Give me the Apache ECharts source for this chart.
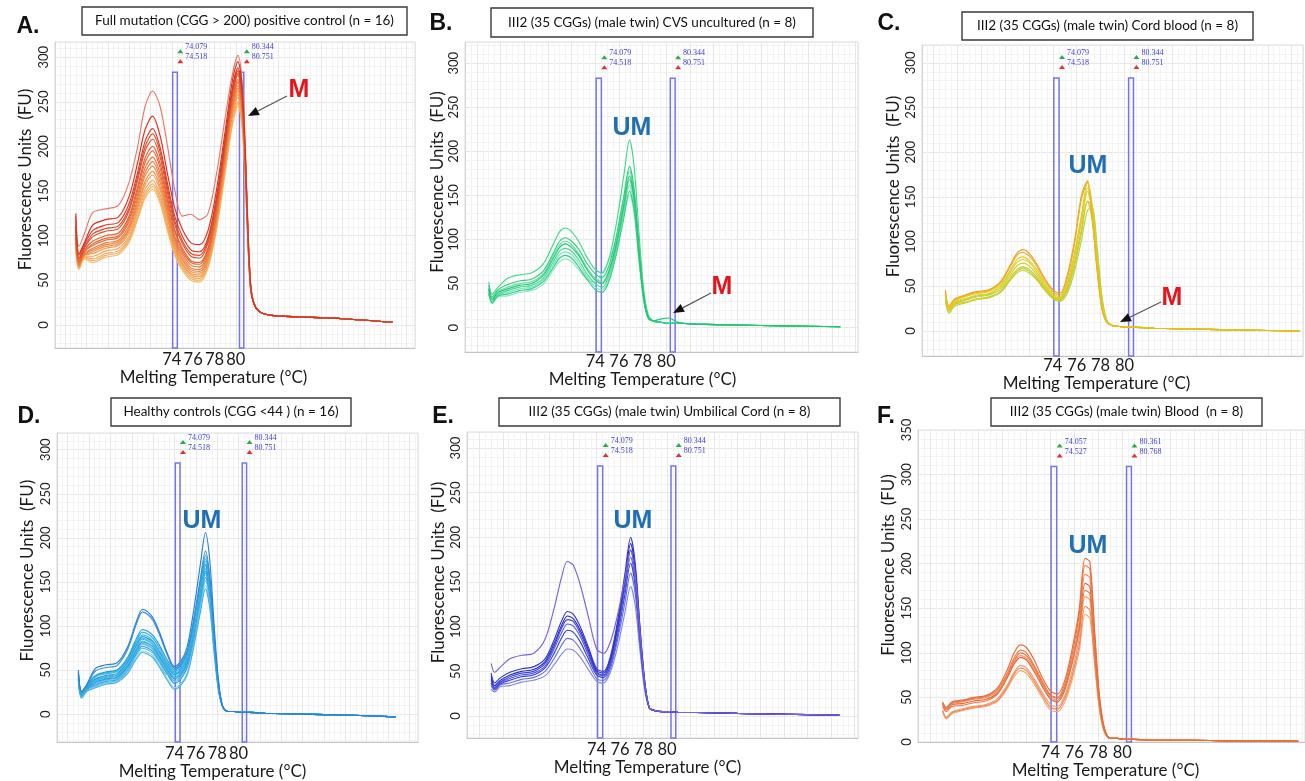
<!DOCTYPE html>
<html>
<head>
<meta charset="utf-8">
<title>Melting curves</title>
<script src="https://cdn.jsdelivr.net/npm/echarts@6/dist/echarts.min.js"></script>
<style>
html,body{margin:0;padding:0;background:#fff;}
#main{width:1305px;height:781px;}
</style>
</head>
<body>
<div id="main"></div>
<script>
// temperature points (degC) used for the curves
var tempsA = [65.0, 65.3, 65.8, 66.6, 67.8, 69.0, 70.0, 70.8, 71.5, 72.2, 72.9, 73.6, 74.3, 75.0, 75.8, 76.6, 77.4, 78.2, 79.0, 79.7, 80.2, 80.6, 80.9, 81.15, 81.4, 81.7, 82.2, 83.2, 86, 90, 94.7];
var tempsUM = [65.0, 65.3, 65.8, 66.6, 67.6, 68.6, 69.6, 70.4, 71.0, 71.5, 72.0, 72.6, 73.3, 74.0, 74.6, 75.2, 75.8, 76.4, 76.9, 77.3, 77.7, 78.1, 78.5, 79.0, 79.6, 80.2, 81.0, 82.5, 86, 90, 94.7];

var xTickLabels = [74, 76, 78, 80];
var yTickLabels = [0, 50, 100, 150, 200, 250, 300];
var yTickLabelsF = [0, 50, 100, 150, 200, 250, 300, 350];

// marker pairs (green / red) for the two melting windows
var markersStd = [74.079, 74.518, 80.344, 80.751];
var markersF = [74.057, 74.527, 80.361, 80.768];

// A. full mutation positive control (n = 16)
var fuA = [
  [122,88,102,126,130,134,160,200,245,262,245,200,150,122,124,118,125,170,232,282,302,272,196,106,45,25,15,11,9,7,3],
  [125,80,92,112,118,121,144,182,219,234,212,169,130,107,92,90,106,152,217,275,295,266,192,103,44,24,15,11,9,7,3],
  [118,78,90,106,112,115,136,171,206,220,199,158,121,99,84,82,98,144,210,267,288,259,187,101,43,24,15,11,9,7,3],
  [112,75,87,102,108,111,131,166,200,214,194,153,116,94,80,78,95,140,206,264,285,257,185,100,43,24,15,11,9,7,3],
  [110,74,86,99,105,108,128,162,195,208,188,148,112,91,77,75,92,137,203,261,282,254,183,99,42,24,15,11,9,7,3],
  [108,72,84,94,100,103,122,155,187,200,181,142,106,86,72,70,87,133,200,259,280,252,182,98,42,24,15,11,9,7,3],
  [104,70,82,91,97,100,119,151,182,195,176,138,104,83,70,68,85,130,196,254,275,248,179,96,41,24,15,11,9,7,3],
  [100,70,82,89,95,98,116,146,176,188,170,133,99,80,67,65,82,127,193,251,272,245,177,95,41,24,15,11,9,7,3],
  [98,68,80,86,92,95,112,142,171,183,165,129,96,77,64,62,79,124,190,247,268,241,174,94,40,24,15,11,9,7,3],
  [96,67,79,84,90,93,109,138,167,178,160,125,93,74,62,60,76,122,187,245,265,239,172,93,40,24,15,11,9,7,3],
  [94,66,78,82,88,91,107,134,161,172,155,121,90,72,60,58,74,119,185,242,262,236,170,92,39,24,15,11,9,7,3],
  [92,66,78,80,86,89,104,131,157,168,151,118,87,69,58,56,72,117,181,238,258,232,168,90,39,24,15,11,9,7,3],
  [88,65,77,77,83,86,100,127,152,162,146,113,84,67,56,54,70,114,179,235,255,230,166,89,38,24,15,11,9,7,3],
  [86,64,76,74,80,83,97,123,148,158,142,110,82,65,54,52,68,111,175,230,250,225,163,88,38,24,15,11,9,7,3],
  [84,63,75,72,78,81,95,120,145,155,139,108,79,63,52,50,66,109,173,228,248,223,161,87,37,24,15,11,9,7,3],
  [82,62,74,70,76,79,93,118,142,152,136,105,77,61,50,48,64,107,170,225,245,221,159,86,37,24,15,11,9,7,3]
];

// B. CVS uncultured (n = 8)
var fuB = [
  [52,38,46,56,60,62,72,93,109,113,109,98,80,66,62,80,119,171,213,181,107,43,14,7,6,5,5,4,3,2,1],
  [48,35,43,49,53,55,64,83,98,102,98,89,73,61,57,72,105,148,183,156,92,37,12,7,6,5,5,4,3,2,1],
  [45,33,41,46,50,52,61,80,94,98,94,84,68,56,52,67,100,143,178,151,89,36,12,7,6,5,5,4,3,2,1],
  [44,32,40,44,48,50,59,77,91,95,91,82,66,54,50,65,96,138,172,146,86,34,11,8,10,11,6,4,3,2,1],
  [42,30,38,42,46,48,56,73,87,90,87,77,61,50,46,61,92,134,168,143,84,34,11,7,6,5,5,4,3,2,1],
  [40,29,37,40,44,46,54,70,83,86,83,73,58,46,43,57,88,129,162,138,81,32,11,7,6,5,5,4,3,2,1],
  [39,28,36,38,42,44,52,67,79,82,79,69,55,43,40,54,84,123,155,132,78,31,10,7,6,5,5,4,3,2,1],
  [38,27,35,36,40,42,49,64,75,78,75,66,55,52,62,78,100,128,150,128,75,30,10,7,6,5,5,4,3,2,1]
];

// C. cord blood (n = 8)
var fuC = [
  [46,28,36,40,44,46,55,73,87,91,87,76,59,46,42,62,100,152,168,128,70,26,10,6,5,4,4,3,2,1,0],
  [44,27,35,39,43,45,54,71,85,88,84,74,57,44,40,58,96,148,166,125,68,25,10,6,5,4,4,3,2,1,0],
  [42,26,34,38,42,44,52,67,80,83,79,70,54,42,38,53,87,130,166,141,83,33,11,6,5,4,4,3,2,1,0],
  [41,25,33,36,40,42,50,65,77,80,77,67,52,40,37,52,84,126,160,136,80,32,10,6,5,4,4,3,2,1,0],
  [40,24,32,35,39,41,48,62,73,76,73,64,50,39,36,50,82,122,156,133,78,31,10,6,5,4,4,3,2,1,0],
  [38,23,31,34,38,40,46,59,69,72,69,61,48,38,35,45,72,110,145,140,90,38,12,6,5,4,4,3,2,1,0],
  [36,22,30,32,36,38,44,57,67,70,67,59,47,37,34,47,76,114,145,123,73,29,10,6,5,4,4,3,2,1,0],
  [34,20,28,31,35,37,43,56,65,68,65,58,46,36,33,42,66,102,135,138,95,40,13,6,5,4,4,3,2,1,0]
];

// D. healthy controls (n = 16)
var fuD = [
  [50,26,34,52,56,58,76,104,119,116,109,93,70,54,60,77,118,168,206,175,103,41,9,3,3,2,2,1,0,-1,-3],
  [48,25,33,49,53,55,73,101,116,113,106,90,68,52,57,72,108,152,185,157,93,37,9,3,3,2,2,1,0,-1,-3],
  [47,25,33,44,48,50,64,85,96,94,89,78,62,50,55,70,105,148,180,153,90,36,9,3,3,2,2,1,0,-1,-3],
  [46,24,32,43,47,49,62,82,93,91,86,75,59,48,53,67,102,144,176,150,88,35,9,3,3,2,2,1,0,-1,-3],
  [45,24,32,42,46,48,61,80,90,88,83,72,57,46,51,65,99,141,173,147,87,35,9,3,3,2,2,1,0,-1,-3],
  [44,23,31,40,44,46,59,78,88,86,82,71,56,45,50,64,98,139,170,145,85,34,9,3,3,2,2,1,0,-1,-3],
  [43,23,31,39,43,45,57,76,86,84,80,69,55,44,49,63,96,137,168,143,84,34,9,3,3,2,2,1,0,-1,-3],
  [42,22,30,38,42,44,56,75,85,83,79,68,53,42,47,61,94,134,165,140,83,33,9,3,3,2,2,1,0,-1,-3],
  [42,22,30,37,41,43,55,73,83,81,77,66,52,41,46,60,93,133,164,139,82,33,9,3,3,2,2,1,0,-1,-3],
  [41,21,29,36,40,42,54,72,82,80,76,65,51,40,45,58,91,132,162,138,81,32,9,3,3,2,2,1,0,-1,-3],
  [40,21,29,35,39,41,53,70,80,78,74,63,49,38,43,56,89,130,160,136,80,32,9,3,3,2,2,1,0,-1,-3],
  [40,20,28,34,38,40,52,69,79,77,73,62,48,37,42,55,88,128,158,134,79,32,9,3,3,2,2,1,0,-1,-3],
  [39,20,28,33,37,39,50,68,77,75,71,60,46,35,40,53,85,125,155,132,78,31,9,3,3,2,2,1,0,-1,-3],
  [38,19,27,32,36,38,49,66,75,73,69,58,45,48,60,70,90,122,151,128,76,30,9,3,3,2,2,1,0,-1,-3],
  [37,19,27,31,35,37,48,63,72,70,66,55,41,30,35,47,79,117,146,124,73,29,9,3,3,2,2,1,0,-1,-3],
  [36,18,26,30,34,36,46,62,70,68,64,53,39,28,33,45,76,114,142,121,71,28,9,3,3,2,2,1,0,-1,-3]
];

// E. umbilical cord (n = 8)
var fuE = [
  [59,49,55,64,68,70,86,122,155,173,169,147,111,75,70,84,114,153,185,157,93,37,9,6,5,5,4,4,3,2,1],
  [48,37,43,49,53,55,64,86,106,117,114,100,77,53,50,68,107,158,200,170,100,40,9,6,5,5,4,4,3,2,1],
  [45,34,40,46,50,52,61,82,101,112,109,96,74,51,48,65,103,152,193,164,97,39,9,6,5,5,4,4,3,2,1],
  [42,32,38,44,48,50,59,79,98,108,106,93,71,49,46,63,99,147,186,158,93,37,9,6,5,5,4,4,3,2,1],
  [40,31,37,42,46,48,56,76,93,103,101,89,68,48,45,61,96,141,178,151,89,36,9,6,5,5,4,4,3,2,1],
  [37,30,36,40,44,46,54,71,87,96,94,83,64,46,43,58,92,135,171,145,86,34,9,6,5,5,4,4,3,2,1],
  [34,29,35,37,41,43,50,65,79,87,85,75,59,42,40,54,86,126,160,136,80,32,9,6,5,5,4,4,3,2,1],
  [30,27,33,34,38,40,45,58,69,75,74,66,52,39,37,50,78,115,145,123,73,29,9,6,5,5,4,4,3,2,1]
];

// F. blood (n = 8)
var fuF = [
  [45,39,45,47,50,52,61,81,101,109,106,93,73,57,54,69,103,148,206,202,124,52,16,4,4,3,3,2,2,1,1],
  [44,38,44,46,49,51,59,77,95,103,100,87,69,53,50,65,97,142,198,194,119,50,16,4,4,3,3,2,2,1,1],
  [43,37,43,45,48,50,57,74,90,97,94,82,65,50,47,61,92,134,188,184,113,47,15,4,4,3,3,2,2,1,1],
  [42,36,42,43,46,48,55,72,88,95,92,80,63,48,45,58,88,128,178,174,107,45,14,4,4,3,3,2,2,1,1],
  [36,28,34,37,40,42,49,64,79,86,83,72,56,42,40,52,79,116,163,159,98,41,13,4,4,3,3,2,2,1,1],
  [35,27,33,36,39,41,47,62,77,83,80,69,53,39,37,49,74,108,152,148,91,38,12,4,4,3,3,2,2,1,1],
  [34,26,32,35,38,40,46,60,74,80,77,66,50,36,34,45,69,102,143,139,86,36,11,4,4,3,3,2,2,1,1],
  [40,34,40,41,44,46,54,73,92,100,97,85,67,52,49,61,88,124,170,166,102,43,14,4,4,3,3,2,2,1,1]
];

var colorsA = ['#e8786c','#d8301c','#dc3a22','#e04828','#e2522a','#e65e30','#e86834','#ea7238','#ec7c3e','#ee8642','#f09048','#f2994e','#f3a254','#f4aa5a','#f5b262','#f6ba6a'];
var colorsB = ['#3fd98c','#2fcf7c','#5fe0a4','#26c472','#48d894','#7ae6bc','#36cc84','#8aeacb'];
var colorsC = ['#e8a030','#eab028','#e8c820','#dcd022','#c8d42c','#b0d83c','#e2c01c','#a4d846'];
var colorsD = ['#2b7fd4','#3a8ed8','#1ea2dc','#2fb0e4','#45bbe8','#1c96d6','#55c2ea','#38a8e0','#6ccbee','#28a0da','#4cb6e6','#7ad2f0','#3399dd','#5dbfe8','#88d6f2','#42b0e4'];
var colorsE = ['#7c62d8','#3636cc','#2a2ec4','#4048d4','#5560dc','#3a3ed0','#6470e0','#8088e6'];
var colorsF = ['#e86c38','#ec7a48','#f08a58','#e46232','#f29a6a','#ee8450','#f4a676','#ea7440'];

// drawing order of the curves in each panel (last one ends on top)
var orderA = [15,14,13,12,11,10,9,8,7,6,5,4,3,2,0,1];
var orderB = [7,5,2,0,4,6,1,3];
var orderC = [7,5,4,3,0,1,2,6];
var orderD = [11,8,14,15,12,13,10,9,7,6,5,4,3,2,1,0];
var orderE = [7,6,5,4,3,2,1,0];
var orderF = [6,5,4,3,2,1,7,0];

var panels = [
  {temps: tempsA, fu: fuA, colors: colorsA, order: orderA, markers: markersStd, boxTop: 283, yTicks: yTickLabels,
   grid: {left: 55, top: 42, width: 360, height: 306}, x: [63.05, 96.8], y: [-25.8, 317],
   xMargin: 3, xGap: 19, xShift: 43, yGap: 21, yShift: 31},
  {temps: tempsUM, fu: fuB, colors: colorsB, order: orderB, markers: markersStd, boxTop: 283, yTicks: yTickLabels,
   grid: {left: 465, top: 42, width: 393, height: 310}, x: [63.0, 96.2], y: [-27.6, 324],
   xMargin: 1, xGap: 16, xShift: 38, yGap: 16, yShift: 30},
  {temps: tempsUM, fu: fuC, colors: colorsC, order: orderC, markers: markersStd, boxTop: 283, yTicks: yTickLabels,
   grid: {left: 922, top: 45, width: 381, height: 311}, x: [63.04, 94.95], y: [-28, 320],
   xMargin: 1, xGap: 15, xShift: 32, yGap: 20, yShift: 28},
  {temps: tempsUM, fu: fuD, colors: colorsD, order: orderD, markers: markersStd, boxTop: 285, yTicks: yTickLabels,
   grid: {left: 57, top: 433, width: 361, height: 310}, x: [63.0, 96.8], y: [-31.7, 319],
   xMargin: 3, xGap: 15, xShift: 50, yGap: 21, yShift: 34},
  {temps: tempsUM, fu: fuE, colors: colorsE, order: orderE, markers: markersStd, boxTop: 280, yTicks: yTickLabels,
   grid: {left: 467, top: 432, width: 391, height: 306}, x: [62.94, 96.3], y: [-24.6, 318],
   xMargin: 3, xGap: 20, xShift: 30, yGap: 20, yShift: 25},
  {temps: tempsUM, fu: fuF, colors: colorsF, order: orderF, markers: markersF, boxTop: 309, yTicks: yTickLabelsF,
   grid: {left: 918, top: 430, width: 387, height: 312}, x: [62.94, 95.27], y: [0, 350],
   xMargin: 2, xGap: 15, xShift: 12, yGap: 21, yShift: 42}
];

var titles = [
  {text: 'Full mutation (CGG > 200) positive control (n = 16)', x: 82, y: 7, w: 325, h: 28},
  {text: 'III2 (35 CGGs) (male twin) CVS uncultured (n = 8)', x: 491, y: 8, w: 322, h: 29},
  {text: 'III2 (35 CGGs) (male twin) Cord blood (n = 8)', x: 962, y: 12, w: 291, h: 28},
  {text: 'Healthy controls (CGG <44 ) (n = 16)', x: 111, y: 398, w: 240, h: 28},
  {text: 'III2 (35 CGGs) (male twin) Umbilical Cord (n = 8)', x: 499, y: 398, w: 341, h: 28},
  {text: 'III2 (35 CGGs) (male twin) Blood  (n = 8)', x: 991, y: 398, w: 271, h: 28}
];
var letters = [['A.', 28, 27], ['B.', 441, 24], ['C.', 889, 24], ['D.', 29, 417], ['E.', 443, 417], ['F.', 886, 417]];
var umLabels = [[632, 128], [1088, 166], [202, 521], [633, 521], [1088, 546]];
var mLabels = [[299, 90], [722, 287], [1172, 298]];
var mArrows = [[287, 96, 248, 116], [711, 293, 673, 313], [1161, 302, 1120, 322]];

var grids = [], xAxes = [], yAxes = [], series = [];
var gridLine = {show: true, lineStyle: {color: '#e7e7e7', width: 1}};
var minorLine = {show: true, lineStyle: {color: '#f3f3f3', width: 1}};

panels.forEach(function (p, i) {
  grids.push({left: p.grid.left, top: p.grid.top, width: p.grid.width, height: p.grid.height,
    show: true, borderColor: '#dcdcdc', borderWidth: 1, backgroundColor: '#fff'});
  xAxes.push({
    type: 'value', gridIndex: i, min: p.x[0], max: p.x[1], splitNumber: 17,
    axisLine: {show: true, onZero: false, lineStyle: {color: '#c4c4c4'}},
    axisTick: {show: false},
    axisLabel: {customValues: xTickLabels, margin: p.xMargin, fontSize: 16.5, color: '#1a1a1a', fontFamily: 'Lato'},
    splitLine: gridLine, minorTick: {show: false, splitNumber: 4}, minorSplitLine: minorLine,
    name: 'Melting Temperature (°C)', nameLocation: 'middle', nameGap: p.xGap,
    nameTextStyle: {fontSize: 17, color: '#1a1a1a', fontFamily: 'Lato', padding: [0, p.xShift, 0, 0]}
  });
  yAxes.push({
    type: 'value', gridIndex: i, min: p.y[0], max: p.y[1], splitNumber: 7,
    axisLine: {show: true, lineStyle: {color: '#d4d4d4'}},
    axisTick: {show: false},
    axisLabel: {customValues: p.yTicks, rotate: 90, margin: 5, fontSize: 13, color: '#222', fontFamily: 'Lato'},
    splitLine: gridLine, minorTick: {show: false, splitNumber: 5}, minorSplitLine: minorLine,
    name: 'Fluorescence Units  (FU)', nameLocation: 'middle', nameGap: p.yGap,
    nameTextStyle: {fontSize: 17, color: '#1a1a1a', fontFamily: 'Lato', padding: [0, 0, 0, p.yShift]}
  });

  p.order.forEach(function (j, n) {
    var row = p.fu[j];
    var s = {
      type: 'line', xAxisIndex: i, yAxisIndex: i, silent: true,
      data: p.temps.map(function (t, k) { return [t, row[k]]; }),
      smooth: 0.3, symbol: 'none',
      lineStyle: {width: 1.15, color: p.colors[j]}
    };
    if (n === 0) {
      var m = p.markers, yb = p.y[0];
      s.markArea = {
        silent: true,
        itemStyle: {color: 'rgba(0,0,0,0)', borderColor: '#7474ee', borderWidth: 1.5},
        data: [
          [{coord: [m[0], yb]}, {coord: [m[1], p.boxTop]}],
          [{coord: [m[2], yb]}, {coord: [m[3], p.boxTop]}]
        ]
      };
      var mp = function (x, val, dy, col) {
        return {coord: [x, p.boxTop], value: val, symbol: 'triangle', symbolSize: [6, 4],
          symbolOffset: [3, dy], itemStyle: {color: col},
          label: {show: true, position: 'right', distance: 2, offset: [0, -4],
            formatter: val.toFixed(3), fontSize: 8, color: '#3c3cd8', fontFamily: 'Liberation Serif'}};
      };
      s.markPoint = {
        silent: true, animation: false,
        data: [
          mp(m[1], m[0], -21, '#2ea84a'), mp(m[1], m[1], -11, '#e03030'),
          mp(m[3], m[2], -21, '#2ea84a'), mp(m[3], m[3], -11, '#e03030')
        ]
      };
      s.z = 3;
    }
    series.push(s);
  });
});

function arrow(x1, y1, x2, y2) {
  var a = Math.atan2(y2 - y1, x2 - x1), L = 11, W = 4.5;
  var bx = x2 - L * Math.cos(a), by = y2 - L * Math.sin(a);
  var px = -Math.sin(a) * W, py = Math.cos(a) * W;
  return [
    {type: 'line', shape: {x1: x1, y1: y1, x2: bx, y2: by}, style: {stroke: '#555', lineWidth: 1.2}, z: 50},
    {type: 'polygon', shape: {points: [[x2, y2], [bx + px, by + py], [bx - px, by - py]]}, style: {fill: '#111'}, z: 50}
  ];
}

var graphics = [];
titles.forEach(function (t) {
  graphics.push({type: 'rect', shape: {x: t.x, y: t.y, width: t.w, height: t.h},
    style: {fill: '#fff', stroke: '#3a3a3a', lineWidth: 1.4}, z: 40});
  graphics.push({type: 'text', x: t.x + t.w / 2, y: t.y + t.h / 2, z: 41,
    style: {text: t.text, fontSize: 13.5, fontFamily: 'Lato', fill: '#111', align: 'center', verticalAlign: 'middle'}});
});
letters.forEach(function (l) {
  graphics.push({type: 'text', x: l[1], y: l[2], z: 41,
    style: {text: l[0], fontSize: 23, fontWeight: 'bold', fontFamily: 'Liberation Sans', fill: '#111', align: 'center', verticalAlign: 'middle'}});
});
umLabels.forEach(function (u) {
  graphics.push({type: 'text', x: u[0], y: u[1], z: 41,
    style: {text: 'UM', fontSize: 25, fontWeight: 'bold', fontFamily: 'Liberation Sans', fill: '#1f6fb2', align: 'center', verticalAlign: 'middle'}});
});
mLabels.forEach(function (u) {
  graphics.push({type: 'text', x: u[0], y: u[1], z: 41,
    style: {text: 'M', fontSize: 25, fontWeight: 'bold', fontFamily: 'Liberation Sans', fill: '#e3161e', align: 'center', verticalAlign: 'middle'}});
});
mArrows.forEach(function (a) {
  graphics = graphics.concat(arrow(a[0], a[1], a[2], a[3]));
});

var myChart = echarts.init(document.getElementById('main'));
myChart.setOption({
  backgroundColor: '#fff',
  animation: false,
  grid: grids,
  xAxis: xAxes,
  yAxis: yAxes,
  series: series,
  graphic: graphics
});
</script>
</body>
</html>
